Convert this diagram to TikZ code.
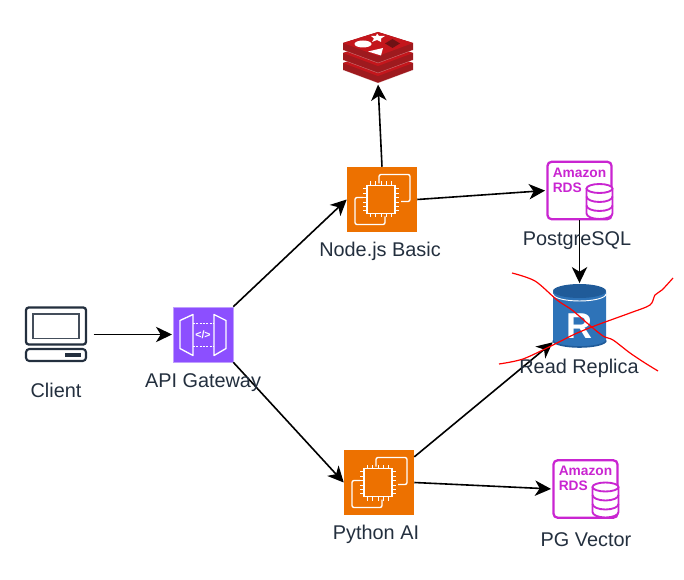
\documentclass[tikz,border=0pt]{standalone}
\usepackage{fontspec}
\setmainfont{Liberation Sans}
\usetikzlibrary{arrows.meta}
\definecolor{awsorange}{HTML}{ED7100}
\definecolor{awspurple}{HTML}{8C4FFF}
\definecolor{awsmagenta}{HTML}{C925D1}
\definecolor{awsink}{HTML}{232F3E}
\definecolor{rdsblue}{HTML}{2E73B8}
\definecolor{rdsdark}{HTML}{205B99}
\definecolor{redistop}{HTML}{C4161C}
\definecolor{redisside}{HTML}{9E1A1E}
\tikzset{
    flow/.style={-{Stealth[length=12pt,width=11.5pt,inset=3.5pt]}, line width=1.2pt, black},
    label/.style={font=\fontsize{14.9}{17}\selectfont, text=awsink, inner sep=0pt},
    ec2box/.style={fill=awsorange, minimum width=52.5pt, minimum height=48.75pt, inner sep=0pt},
    apibox/.style={fill=awspurple, draw=awspurple!55, line width=0.5pt, minimum width=45pt, minimum height=41.25pt, inner sep=0pt},
    rdsbox/.style={draw=awsmagenta, line width=1.7pt, rounded corners=3pt, minimum width=48pt, minimum height=43pt, inner sep=0pt},
    iconbox/.style={minimum width=46pt, minimum height=41pt, inner sep=0pt},
    scribble/.style={red, line width=0.9pt, smooth},
    ec2chip/.pic={
        \draw[white, line width=1pt, rounded corners=1.5pt] (-3,-16) -- (-3,-25) -- (28,-25) -- (28,2) -- (19,2);
        \draw[white, line width=1pt, rounded corners=1.5pt] (-19,-2) -- (-27,-2) -- (-27,25) -- (3,25) -- (3,17);
        \draw[white, line width=1pt] (-15,-14) rectangle (13,14);
        \foreach \p in {-11,-6.5,-2,2.5,7,11} {
            \draw[white, line width=0.7pt] (-15,\p) -- (-19,\p);
            \draw[white, line width=0.7pt] (13,\p) -- (17,\p);
        }
        \foreach \p in {-12,-7,-1,4,9} {
            \draw[white, line width=0.7pt] (\p,-14) -- (\p,-18);
            \draw[white, line width=0.7pt] (\p,14) -- (\p,18);
        }
    },
    gateway/.pic={
        \draw[white, line width=1pt, line join=round] (-23,-14) -- (-10,-20) -- (-10,21) -- (-23,14) -- cycle;
        \draw[white, line width=1pt, line join=round] (11,-20) -- (23,-14) -- (23,14) -- (11,21) -- cycle;
        \draw[white, line width=0.8pt, dash pattern=on 1.5pt off 1pt] (-10,-11) -- (11,-11);
        \draw[white, line width=0.8pt, dash pattern=on 1.5pt off 1pt] (-10,12) -- (11,12);
        \node[text=white, inner sep=0pt, font=\fontsize{8}{8}\selectfont\bfseries] (-code) at (0,0) {</>};
    },
    rdsmark/.pic={
        \node[text=awsmagenta, font=\fontsize{10.3}{11.4}\selectfont\bfseries, align=left, inner sep=0pt, anchor=north west] (-name) at (-27,-23) {Amazon\\RDS};
        \filldraw[fill=white, draw=awsmagenta, line width=1.4pt] (7,-2) -- (7,23) arc[start angle=180, end angle=0, x radius=13, y radius=5.5] -- (33,-2);
        \draw[awsmagenta, fill=white, line width=1.4pt] (20,-2) ellipse [x radius=13, y radius=4.5];
        \draw[awsmagenta, line width=1.4pt] (7,6) arc[start angle=180, end angle=0, x radius=13, y radius=5.5];
        \draw[awsmagenta, line width=1.4pt] (7,15) arc[start angle=180, end angle=0, x radius=13, y radius=5.5];
    },
    redismark/.pic={
        \foreach \o in {20,10,0} {
            \fill[redisside] (-35,-14.5+\o) -- (-35,-7.5+\o) -- (0,5.5+\o) -- (35,-7.5+\o) -- (35,-14.5+\o) -- (0,-25.5+\o) -- cycle;
            \fill[redistop] (-35,-14.5+\o) -- (0,-25.5+\o) -- (35,-14.5+\o) -- (0,-1.5+\o) -- cycle;
            \draw[white, opacity=0.4, line width=0.3pt] (-35,-7.5+\o) -- (0,5.5+\o) -- (35,-7.5+\o);
        }
        \fill[white] (-15,-13.5) ellipse [x radius=8.5, y radius=3.5];
        \fill[white] (-1,-24) -- (1,-21.5) -- (7,-21.5) -- (3,-19) -- (3,-15.5) -- (-1,-17.5) -- (-6,-15.5) -- (-4,-19) -- (-7,-21.5) -- (-2,-21.5) -- cycle;
        \fill[white] (-10,-6) -- (5,-9.5) -- (3,-2) -- cycle;
        \fill[redisside!70!black] (7,-14) -- (14.5,-18.5) -- (22,-14) -- (14.5,-9.5) -- cycle;
    },
    laptop/.pic={
        \draw[awsink, line width=1.7pt, rounded corners=2pt] (-30,-27) rectangle (30,10);
        \draw[awsink!85, line width=1.3pt] (-23,-20.5) rectangle (23,4);
        \draw[awsink, line width=1.6pt, rounded corners=2.5pt] (-30,14.5) rectangle (30,26.5);
        \fill[awsink] (9,18.5) rectangle (25,22.5);
    },
    replicamark/.pic={
        \fill[rdsblue] (-26.5,-24) -- (-26.5,25) arc[start angle=180, end angle=0, x radius=26.5, y radius=6.5] -- (26.5,-24) -- cycle;
        \fill[rdsdark] (0,-24.5) ellipse [x radius=26.5, y radius=7];
        \draw[white, line width=0.7pt] (-26.5,-21.5) arc[start angle=180, end angle=0, x radius=26.5, y radius=7];
        \draw[rdsdark, line width=1.2pt] (-26.5,25) arc[start angle=180, end angle=0, x radius=26.5, y radius=6.5];
        \node[text=white, inner sep=0pt, font=\fontsize{27}{27}\selectfont\bfseries] (-letter) at (0,11) {R};
    },
}
\begin{document}
\begin{tikzpicture}[x=0.75pt,y=-0.75pt]
    \useasboundingbox (0,0) rectangle (684,580);
    % icons
    \node[iconbox] (client) at (56,334.5) {};
    \pic at (client) {laptop};
    \node[apibox] (apigw) at (203,334.5) {};
    \pic at (apigw) {gateway};
    \node[ec2box] (nodebasic) at (382,199.5) {};
    \pic at (nodebasic) {ec2chip};
    \node[ec2box] (pyai) at (379,482.5) {};
    \pic at (pyai) {ec2chip};
    \node[iconbox, minimum width=52.5pt, minimum height=38.25pt] (redis) at (378,57.5) {};
    \pic at (redis) {redismark};
    \node[rdsbox] (postgres) at (579.5,190.5) {};
    \pic (pgmark) at (postgres) {rdsmark};
    \node[rdsbox] (pgvector) at (585.5,489) {};
    \pic (vecmark) at (pgvector) {rdsmark};
    \node[iconbox, minimum width=39.75pt, minimum height=47.25pt] (replica) at (579.5,315.5) {};
    \pic (repmark) at (replica) {replicamark};
    % connectors
    \draw[flow, shorten <=5pt, shorten >=0.5pt] (client.east) -- (apigw.west);
    \draw[flow] (apigw.north east) -- (nodebasic.west);
    \draw[flow] (apigw.south east) -- (pyai.west);
    \draw[flow, shorten >=1pt] (nodebasic.north) -- (redis.south);
    \draw[flow, shorten >=1pt] (nodebasic.east) -- (postgres.west);
    \draw[flow, shorten >=0.5pt] (postgres.south) -- (replica.north);
    \draw[flow] (pyai.36) -- (replica.225);
    \draw[flow, shorten >=1pt] (pyai.east) -- (pgvector.west);
    % labels
    \node[label] (clientname) at (56,390) {Client};
    \node[label] (apiname) at (203,383) {API Gateway};
    \node[label] (nodename) at (380,251) {Node.js Basic};
    \node[label] (pgname) at (577,241) {PostgreSQL};
    \node[label] (repname) at (579,368) {Read Replica};
    \node[label] (pyname) at (376,534) {Python AI};
    \node[label] (vecname) at (586,540) {PG Vector};
    % crossed out by hand
    \draw[scribble] plot coordinates {(512,273) (535,281) (557,300) (572,310) (587,323) (603,336) (613,340) (630,353) (645,363) (658,371)};
    \draw[scribble] plot coordinates {(499,364) (523,359) (553,345) (575,334) (597,325) (630,313) (650,305) (655,295) (662,290) (673,278)};
\end{tikzpicture}
\end{document}
